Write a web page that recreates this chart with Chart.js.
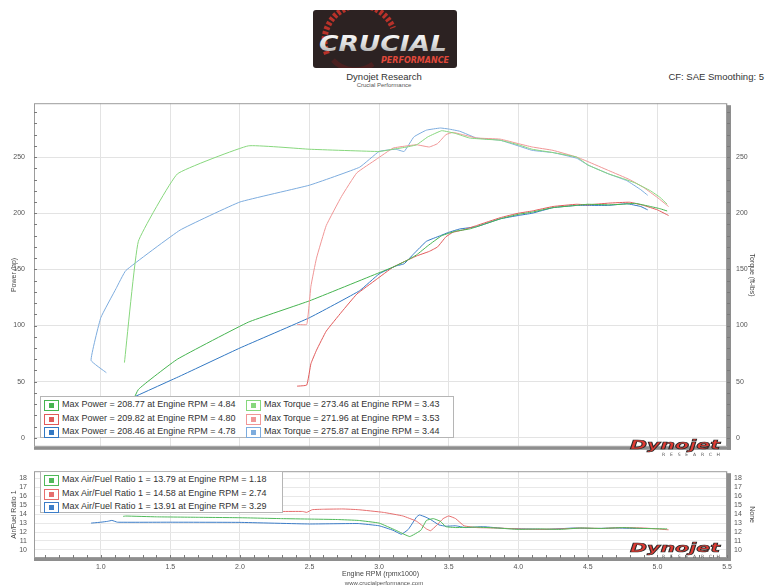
<!DOCTYPE html>
<html>
<head>
<meta charset="utf-8">
<script src="https://cdn.jsdelivr.net/npm/chart.js@4"></script>
<style>
  body { margin: 0; background: #fff; width: 768px; height: 588px; position: relative; overflow: hidden;
         font-family: "Liberation Sans", Arial, sans-serif; color: #333; }
  .abs { position: absolute; }
  canvas { position: absolute; left: 0; }
  .legend { position: absolute; background: #fff; border: 1px solid #b5b5b5; box-sizing: border-box; }
  .row { position: absolute; height: 13px; line-height: 13px; font-size: 9px; color: #333; white-space: nowrap; }
  .ico { position: absolute; width: 15px; height: 11px; box-sizing: border-box; border: 1px solid; background: #fff; }
  .ico i { position: absolute; left: 4px; top: 2px; width: 5px; height: 5px; }
</style>
</head>
<body>

<svg class="abs" style="left:313px;top:10px" width="144" height="58">
  <defs>
    <linearGradient id="silver" x1="0" y1="0" x2="0" y2="1">
      <stop offset="0" stop-color="#ffffff"/>
      <stop offset="0.55" stop-color="#d9d9d9"/>
      <stop offset="1" stop-color="#9a9a9a"/>
    </linearGradient>
  </defs>
  <rect x="0" y="0" width="144" height="58" rx="3" fill="#2c2222"/>
  <path d="M 14 44 A 28 28 0 0 1 80 18" fill="none" stroke="#b8322a" stroke-width="6" stroke-dasharray="3 2"/>
  <path d="M 20 50 A 30 30 0 0 0 60 54" fill="none" stroke="#4a2020" stroke-width="5"/>
  <text x="6" y="41" font-family="DejaVu Sans" font-weight="bold" font-style="italic" font-size="21"
        fill="url(#silver)" textLength="128" lengthAdjust="spacingAndGlyphs">CRUCIAL</text>
  <text x="68" y="53" font-family="DejaVu Sans" font-weight="bold" font-style="italic" font-size="8"
        fill="#e0483a" textLength="68" lengthAdjust="spacingAndGlyphs">PERFORMANCE</text>
</svg>

<div class="abs" style="left:284px;top:71px;width:200px;text-align:center;font-size:9.5px;">Dynojet Research</div>
<div class="abs" style="left:284px;top:82px;width:200px;text-align:center;font-size:6px;color:#555;">Crucial Performance</div>
<div class="abs" style="right:4px;top:71px;font-size:9.5px;">CF: SAE Smoothing: 5</div>

<canvas id="powerChart" width="768" height="370" style="top:90px"></canvas>
<canvas id="afrChart" width="768" height="128" style="top:460px"></canvas>

<div id="legendPower" class="legend" style="left:40px;top:396px;width:414px;height:42px"></div>
<div id="legendAfr" class="legend" style="left:40px;top:471px;width:243px;height:42px"></div>

<svg class="abs" style="left:628px;top:438px" width="96" height="20">
  <text x="2" y="11" font-family="DejaVu Sans" font-weight="bold" font-style="italic" font-size="12"
        fill="#e03a32" stroke="#2a2a2a" stroke-width="0.7" textLength="90" lengthAdjust="spacingAndGlyphs">Dynojet</text>
  <text x="34" y="17.5" font-family="DejaVu Sans" font-size="4.5" fill="#555" textLength="58" lengthAdjust="spacing">RESEARCH</text>
</svg>
<svg class="abs" style="left:628px;top:541px" width="96" height="20">
  <text x="2" y="11" font-family="DejaVu Sans" font-weight="bold" font-style="italic" font-size="12"
        fill="#e03a32" stroke="#2a2a2a" stroke-width="0.7" textLength="90" lengthAdjust="spacingAndGlyphs">Dynojet</text>
  <text x="34" y="16.5" font-family="DejaVu Sans" font-size="4.5" fill="#555" textLength="58" lengthAdjust="spacing">RESEARCH</text>
</svg>

<div class="abs" style="left:284px;top:580px;width:200px;text-align:center;font-size:6px;color:#555;">www.crucialperformance.com</div>

<script>
// run 1 (green)
const greenRpm = [1.17, 1.27, 1.55, 2.06, 2.5, 3.0, 3.1, 3.2, 3.27, 3.35, 3.45, 3.55, 3.65, 3.75, 3.87, 4.0, 4.1, 4.25, 4.42, 4.5, 4.65, 4.75, 4.84, 4.95, 5.02, 5.07];
const greenHp  = [15, 43, 70, 103, 122, 147, 152, 158, 163, 171, 180, 184, 186, 190, 195, 199, 201, 205, 207, 208, 207.5, 208, 208.8, 206, 204, 202];
const greenTq  = [67, 175, 235, 260, 257, 255, 257, 259, 261, 268, 273.5, 271, 267, 266, 265, 261, 257, 254, 250, 243, 235, 231, 227, 220, 214, 208];

// run 2 (red)
const redRpm = [2.41, 2.48, 2.51, 2.55, 2.62, 2.73, 2.84, 2.98, 3.1, 3.2, 3.27, 3.36, 3.42, 3.48, 3.53, 3.6, 3.7, 3.87, 4.0, 4.1, 4.25, 4.42, 4.5, 4.65, 4.8, 4.9, 5.0, 5.08];
const redHp  = [46, 47, 66, 78, 95, 112, 128, 141, 152, 158, 162, 166, 170, 179, 183, 185, 189, 196, 200, 202, 206, 208, 207.5, 209, 209.8, 207, 203, 198];
const redTq  = [101, 101, 135, 160, 189, 215, 236, 248, 258, 260, 261, 259, 262, 270, 272, 270, 267, 266, 262, 259, 256, 250, 246, 238, 230, 223, 214, 206];

// run 3 (blue)
const blueRpm = [1.04, 0.93, 1.0, 1.11, 1.18, 1.57, 2.0, 2.5, 2.86, 3.0, 3.12, 3.18, 3.25, 3.34, 3.44, 3.5, 3.58, 3.7, 3.87, 4.0, 4.1, 4.25, 4.42, 4.5, 4.65, 4.78, 4.88, 4.93];
const blueHp  = [11, 12, 20, 28, 33, 55, 80, 107, 131, 146, 153, 155, 164, 175, 180, 183, 186, 188, 195, 198, 200, 205, 207, 207, 207, 208.5, 206, 203];
const blueTq  = [58, 69, 107, 133, 149, 185, 210, 225, 241, 255, 257, 255, 268, 274, 275.9, 275, 273, 267, 265, 260, 256, 254, 249, 243, 235, 229, 221, 216];

// air/fuel ratio
const greenAfrRpm = [1.16, 1.18, 1.4, 1.7, 2.0, 2.3, 2.5, 2.7, 2.85, 3.0, 3.12, 3.22, 3.3, 3.34, 3.39, 3.44, 3.48, 3.55, 3.7, 3.85, 4.0, 4.15, 4.3, 4.45, 4.6, 4.75, 4.9, 5.07];
const greenAfr    = [13.75, 13.79, 13.7, 13.65, 13.6, 13.5, 13.45, 13.4, 13.3, 13.0, 12.2, 11.5, 12.2, 13.3, 13.5, 13.2, 12.6, 12.5, 12.55, 12.45, 12.3, 12.35, 12.3, 12.45, 12.4, 12.5, 12.4, 12.35];
const redAfrRpm = [2.2, 2.3, 2.45, 2.48, 2.52, 2.6, 2.74, 2.85, 3.03, 3.17, 3.27, 3.34, 3.37, 3.41, 3.46, 3.5, 3.55, 3.61, 3.7, 3.85, 4.0, 4.15, 4.3, 4.45, 4.6, 4.75, 4.9, 5.0, 5.08];
const redAfr    = [14.3, 14.3, 14.3, 14.2, 14.5, 14.55, 14.58, 14.5, 14.2, 13.8, 13.2, 12.35, 12.15, 12.7, 13.5, 13.8, 13.5, 12.7, 12.5, 12.45, 12.35, 12.3, 12.35, 12.45, 12.4, 12.5, 12.45, 12.35, 12.25];
const blueAfrRpm = [0.93, 1.0, 1.05, 1.08, 1.12, 1.5, 2.0, 2.5, 2.85, 3.0, 3.1, 3.16, 3.21, 3.27, 3.29, 3.33, 3.37, 3.43, 3.48, 3.55, 3.62, 3.75, 3.9, 4.05, 4.2, 4.4, 4.55, 4.7, 4.85, 4.93];
const blueAfr    = [13.0, 13.1, 13.2, 13.3, 13.1, 13.1, 13.08, 12.9, 12.95, 12.7, 12.2, 11.75, 12.3, 13.7, 13.91, 13.7, 13.4, 12.8, 12.65, 12.7, 12.5, 12.6, 12.4, 12.35, 12.3, 12.45, 12.4, 12.45, 12.4, 12.4];

const powerLegend = ["Max Power = 208.77 at Engine RPM = 4.84", "Max Power = 209.82 at Engine RPM = 4.80", "Max Power = 208.46 at Engine RPM = 4.78"];
const torqueLegend = ["Max Torque = 273.46 at Engine RPM = 3.43", "Max Torque = 271.96 at Engine RPM = 3.53", "Max Torque = 275.87 at Engine RPM = 3.44"];
const afrLegend = ["Max Air/Fuel Ratio 1 = 13.79 at Engine RPM = 1.18", "Max Air/Fuel Ratio 1 = 14.58 at Engine RPM = 2.74", "Max Air/Fuel Ratio 1 = 13.91 at Engine RPM = 3.29"];

const powerColors = ["rgb(70,180,80)", "rgb(225,90,90)", "rgb(50,120,195)"];
const torqueColors = ["rgb(135,215,125)", "rgb(240,150,150)", "rgb(125,172,222)"];
const afrColors = ["rgb(80,185,90)", "rgb(230,110,110)", "rgb(60,125,200)"];

function pts(xs, ys) {
  return xs.map((x, i) => ({ x: x, y: ys[i] }));
}

function line(label, xs, ys, color, axis) {
  return {
    label: label, data: pts(xs, ys), borderColor: color, backgroundColor: color,
    borderWidth: 1, pointRadius: 0, tension: 0.1, fill: false, yAxisID: axis
  };
}

// frame with grey shadow edge and small inside ticks
const frame = {
  id: "frame",
  afterDraw(chart, args, opts) {
    const { ctx, chartArea: { left, right, top, bottom } } = chart;
    ctx.save();
    ctx.strokeStyle = "#9c9c9c";
    ctx.lineWidth = 1;
    ctx.strokeRect(left + 0.5, top + 0.5, right - left - 1, bottom - top - 1);
    ctx.fillStyle = "#8e8e8e";
    ctx.fillRect(left, bottom, right - left + 4, 3);
    ctx.fillRect(right, top + 2, 4, bottom - top + 1);
    ctx.strokeStyle = "#7a7a7a";
    ctx.beginPath();
    if (opts.yMinor) {
      const ys = chart.scales.y;
      for (let v = 0; v <= ys.max; v += opts.yMinor) {
        const py = Math.round(ys.getPixelForValue(v)) + 0.5;
        ctx.moveTo(left, py); ctx.lineTo(left + 3, py);
        ctx.moveTo(right, py); ctx.lineTo(right + 3, py);
      }
    }
    if (opts.xMinor) {
      const xs = chart.scales.x;
      for (let i = 6; i <= 55; i++) {
        const px = Math.round(xs.getPixelForValue(i / 10)) + 0.5;
        ctx.moveTo(px, bottom); ctx.lineTo(px, bottom - 3);
      }
    }
    ctx.stroke();
    ctx.restore();
  }
};

const tickFont = { family: "Liberation Sans", size: 7 };

new Chart(document.getElementById("powerChart"), {
  type: "line",
  data: {
    datasets: [
      line("Torque 1", greenRpm, greenTq, torqueColors[0], "y2"),
      line("Torque 2", redRpm, redTq, torqueColors[1], "y2"),
      line("Torque 3", blueRpm, blueTq, torqueColors[2], "y2"),
      line("Power 1", greenRpm, greenHp, powerColors[0], "y"),
      line("Power 2", redRpm, redHp, powerColors[1], "y"),
      line("Power 3", blueRpm, blueHp, powerColors[2], "y")
    ]
  },
  options: {
    responsive: false,
    animation: false,
    layout: { padding: { top: 3, left: 0, right: 0, bottom: 0 } },
    plugins: { legend: { display: false }, tooltip: { enabled: false }, frame: { yMinor: 10 } },
    scales: {
      x: {
        type: "linear", min: 0.52, max: 5.5,
        ticks: { display: false, stepSize: 0.5, includeBounds: false },
        grid: { color: "#e3e3e3", drawTicks: false },
        border: { display: false },
        afterFit(s) { s.height = 5; }
      },
      y: {
        position: "left", min: -8, max: 298,
        ticks: { stepSize: 50, includeBounds: false, padding: 9, font: tickFont, color: "#555" },
        grid: { color: "#e3e3e3", drawTicks: false },
        border: { display: false },
        title: { display: true, text: "Power (hp)", font: tickFont, color: "#444", padding: { top: 10, bottom: 0 } },
        afterFit(s) { s.width = 34; }
      },
      y2: {
        position: "right", min: -8, max: 298,
        ticks: { stepSize: 50, includeBounds: false, padding: 9, font: tickFont, color: "#555" },
        grid: { display: false, drawTicks: false },
        border: { display: false },
        title: { display: true, text: "Torque (ft-lbs)", font: tickFont, color: "#444", padding: { top: 12, bottom: 0 } },
        afterFit(s) { s.width = 41; }
      }
    }
  },
  plugins: [frame]
});

new Chart(document.getElementById("afrChart"), {
  type: "line",
  data: {
    datasets: [
      line("AFR 1", greenAfrRpm, greenAfr, afrColors[0], "y"),
      line("AFR 2", redAfrRpm, redAfr, afrColors[1], "y"),
      line("AFR 3", blueAfrRpm, blueAfr, afrColors[2], "y")
    ]
  },
  options: {
    responsive: false,
    animation: false,
    layout: { padding: { top: 3, left: 0, right: 0, bottom: 0 } },
    plugins: { legend: { display: false }, tooltip: { enabled: false }, frame: { xMinor: true } },
    scales: {
      x: {
        type: "linear", min: 0.52, max: 5.5,
        ticks: { stepSize: 0.5, includeBounds: false, padding: 5, font: tickFont, color: "#555",
                 maxRotation: 0, autoSkip: false, callback: (v) => v.toFixed(1) },
        grid: { color: "#e3e3e3", drawTicks: false },
        border: { display: false },
        title: { display: true, text: "Engine RPM (rpmx1000)", font: tickFont, color: "#444", padding: { top: 0, bottom: 10 } },
        afterFit(s) { s.height = 30; }
      },
      y: {
        position: "left", min: 9.1, max: 18.8,
        ticks: { stepSize: 1, includeBounds: false, autoSkip: false, padding: 7, font: tickFont, color: "#555" },
        grid: { color: "#e8e8e8", drawTicks: false },
        border: { display: false },
        title: { display: true, text: "Air/Fuel Ratio 1", font: tickFont, color: "#444", padding: { top: 10, bottom: 0 } },
        afterFit(s) { s.width = 34; }
      },
      y2: {
        position: "right", min: 9.1, max: 18.8,
        ticks: { stepSize: 1, includeBounds: false, autoSkip: false, padding: 7, font: tickFont, color: "#555" },
        grid: { display: false, drawTicks: false },
        border: { display: false },
        title: { display: true, text: "None", font: tickFont, color: "#444", padding: { top: 12, bottom: 0 } },
        afterFit(s) { s.width = 41; }
      }
    }
  },
  plugins: [frame]
});

// legend boxes
function addRow(box, x, y, color, text) {
  const ico = document.createElement("div");
  ico.className = "ico";
  ico.style.left = x + "px";
  ico.style.top = (y - 5) + "px";
  ico.style.borderColor = color;
  ico.innerHTML = '<i style="background:' + color + '"></i>';
  box.appendChild(ico);
  const row = document.createElement("div");
  row.className = "row";
  row.style.left = (x + 18) + "px";
  row.style.top = (y - 7) + "px";
  row.textContent = text;
  box.appendChild(row);
}

const legendPower = document.getElementById("legendPower");
const legendAfr = document.getElementById("legendAfr");
const rowY = [8, 21.5, 35];
for (let i = 0; i < 3; i++) {
  addRow(legendPower, 3, rowY[i], powerColors[i], powerLegend[i]);
  addRow(legendPower, 205, rowY[i], torqueColors[i], torqueLegend[i]);
  addRow(legendAfr, 3, rowY[i], afrColors[i], afrLegend[i]);
}
</script>
</body>
</html>
